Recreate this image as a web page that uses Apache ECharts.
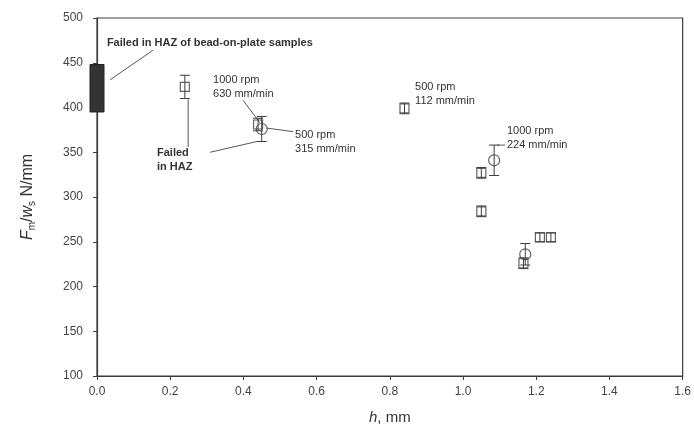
<!DOCTYPE html>
<html>
<head>
<meta charset="utf-8">
<script src="https://cdn.jsdelivr.net/npm/echarts@6/dist/echarts.min.js"></script>
<style>
  html, body { margin: 0; padding: 0; background: #fff; }
  #chart { width: 694px; height: 434px; }
</style>
</head>
<body>
<div id="chart"></div>
<script>
// open squares
const squareH   = [0.24, 0.44, 0.84, 1.05, 1.05, 1.165, 1.21, 1.24]
const squareF   = [423, 381, 399, 327, 284, 226, 255, 255]
const squareErr = [13, 7, 6, 6, 6, 6, 5, 5]
// open circles
const circleH   = [0.45, 1.085, 1.17]
const circleF   = [376, 341, 236]
const circleErr = [14, 17, 12]
// bead-on-plate band at h = 0
const bandH = [0]
const bandLow = [395]
const bandHigh = [448]

const xTicks = { min: 0, max: 1.6, interval: 0.2 }
const yTicks = { min: 100, max: 500, interval: 50 }

// annotations: text anchor (left, middle) and leader lines, data coords
const notes = [
  { text: 'Failed in HAZ of bead-on-plate samples', at: [0.027, 472], bold: true },
  { text: '1000 rpm\n630 mm/min', at: [0.317, 423] },
  { text: '500 rpm\n315 mm/min', at: [0.541, 362] },
  { text: 'Failed\nin HAZ', at: [0.164, 341], bold: true },
  { text: '500 rpm\n112 mm/min', at: [0.869, 415.6] },
  { text: '1000 rpm\n224 mm/min', at: [1.12, 366] },
]
const leaders = [
  [[0.036, 431], [0.153, 464]],
  [[0.399, 408], [0.445, 383]],
  [[0.464, 377], [0.536, 373]],
  [[0.249, 409], [0.249, 356]],
  [[0.309, 350], [0.437, 362]],
  [[1.093, 358], [1.115, 358]],
]

const INK = '#3c3c3c'
const FONT = 'Liberation Sans, Arial, sans-serif'

const errData = []
squareH.forEach((h, i) => errData.push([h, squareF[i] - squareErr[i], squareF[i] + squareErr[i]]))
circleH.forEach((h, i) => errData.push([h, circleF[i] - circleErr[i], circleF[i] + circleErr[i]]))

function renderErr(params, api) {
  const top = api.coord([api.value(0), api.value(2)])
  const bot = api.coord([api.value(0), api.value(1)])
  const hw = 5
  const style = { stroke: INK, lineWidth: 1 }
  return {
    type: 'group',
    children: [
      { type: 'line', shape: { x1: top[0], y1: top[1], x2: bot[0], y2: bot[1] }, style },
      { type: 'line', shape: { x1: top[0] - hw, y1: top[1], x2: top[0] + hw, y2: top[1] }, style },
      { type: 'line', shape: { x1: bot[0] - hw, y1: bot[1], x2: bot[0] + hw, y2: bot[1] }, style },
    ],
  }
}

function renderBand(params, api) {
  const top = api.coord([api.value(0), api.value(2)])
  const bot = api.coord([api.value(0), api.value(1)])
  return {
    type: 'rect',
    shape: { x: top[0] - 7, y: top[1], width: 14, height: bot[1] - top[1] },
    style: { fill: '#333', stroke: '#222', lineWidth: 1 },
    z2: 10,
  }
}

function renderLeader(params, api) {
  const a = api.coord([api.value(0), api.value(1)])
  const b = api.coord([api.value(2), api.value(3)])
  return {
    type: 'line',
    shape: { x1: a[0], y1: a[1], x2: b[0], y2: b[1] },
    style: { stroke: '#555', lineWidth: 1 },
  }
}

const chart = echarts.init(document.getElementById('chart'))

chart.setOption({
  animation: false,
  textStyle: { fontFamily: FONT },
  grid: {
    left: 97, right: 11, top: 18, bottom: 58,
    show: true, borderColor: INK, borderWidth: 1.2, backgroundColor: 'transparent',
  },
  xAxis: {
    type: 'value',
    ...xTicks,
    name: '{i|h}{n|, mm}',
    nameLocation: 'middle',
    nameGap: 34,
    nameTextStyle: {
      rich: {
        i: { fontStyle: 'italic', fontSize: 15, color: '#333', fontFamily: FONT },
        n: { fontSize: 15, color: '#333', fontFamily: FONT },
      },
    },
    axisLine: { lineStyle: { color: INK, width: 1.2 } },
    axisTick: { length: 4, lineStyle: { color: INK } },
    axisLabel: { color: '#444', fontSize: 12, margin: 10, formatter: v => v.toFixed(1) },
    splitLine: { show: false },
  },
  yAxis: {
    type: 'value',
    ...yTicks,
    name: '{i|F}{s|m}{n|/}{i|w}{s|s}{n| N/mm}',
    nameLocation: 'middle',
    nameGap: 60,
    nameTextStyle: {
      rich: {
        i: { fontStyle: 'italic', fontSize: 16, color: '#333', fontFamily: FONT },
        s: { fontSize: 10, color: '#333', fontFamily: FONT, padding: [8, 0, 0, 0] },
        n: { fontSize: 16, color: '#333', fontFamily: FONT },
      },
    },
    axisLine: { lineStyle: { color: INK, width: 1.2 } },
    axisTick: { length: 4, lineStyle: { color: INK } },
    axisLabel: { color: '#444', fontSize: 12, margin: 14 },
    splitLine: { show: false },
  },
  series: [
    {
      type: 'custom',
      name: 'band',
      renderItem: renderBand,
      data: bandH.map((h, i) => [h, bandLow[i], bandHigh[i]]),
      clip: false,
      z: 5,
    },
    {
      type: 'custom',
      name: 'leaders',
      renderItem: renderLeader,
      data: leaders.map(l => [l[0][0], l[0][1], l[1][0], l[1][1]]),
      z: 2,
    },
    {
      type: 'custom',
      name: 'err',
      renderItem: renderErr,
      data: errData,
      z: 3,
    },
    {
      type: 'scatter',
      name: 'square',
      symbol: 'rect',
      symbolSize: 9,
      data: squareH.map((h, i) => [h, squareF[i]]),
      itemStyle: { color: 'rgba(255,255,255,0)', borderColor: INK, borderWidth: 1.2 },
      z: 4,
    },
    {
      type: 'scatter',
      name: 'circle',
      symbol: 'circle',
      symbolSize: 11,
      data: circleH.map((h, i) => [h, circleF[i]]),
      itemStyle: { color: 'rgba(255,255,255,0)', borderColor: INK, borderWidth: 1.2 },
      z: 4,
    },
  ],
})

// annotation texts placed through the chart's own scales
chart.setOption({
  graphic: notes.map(n => {
    const p = chart.convertToPixel({ gridIndex: 0 }, n.at)
    return {
      type: 'text',
      x: p[0], y: p[1],
      z: 20,
      style: {
        text: n.text,
        fill: '#333',
        font: (n.bold ? 'bold ' : '') + '11px ' + FONT,
        lineHeight: 14,
        verticalAlign: 'middle',
      },
    }
  }),
})
</script>
</body>
</html>
